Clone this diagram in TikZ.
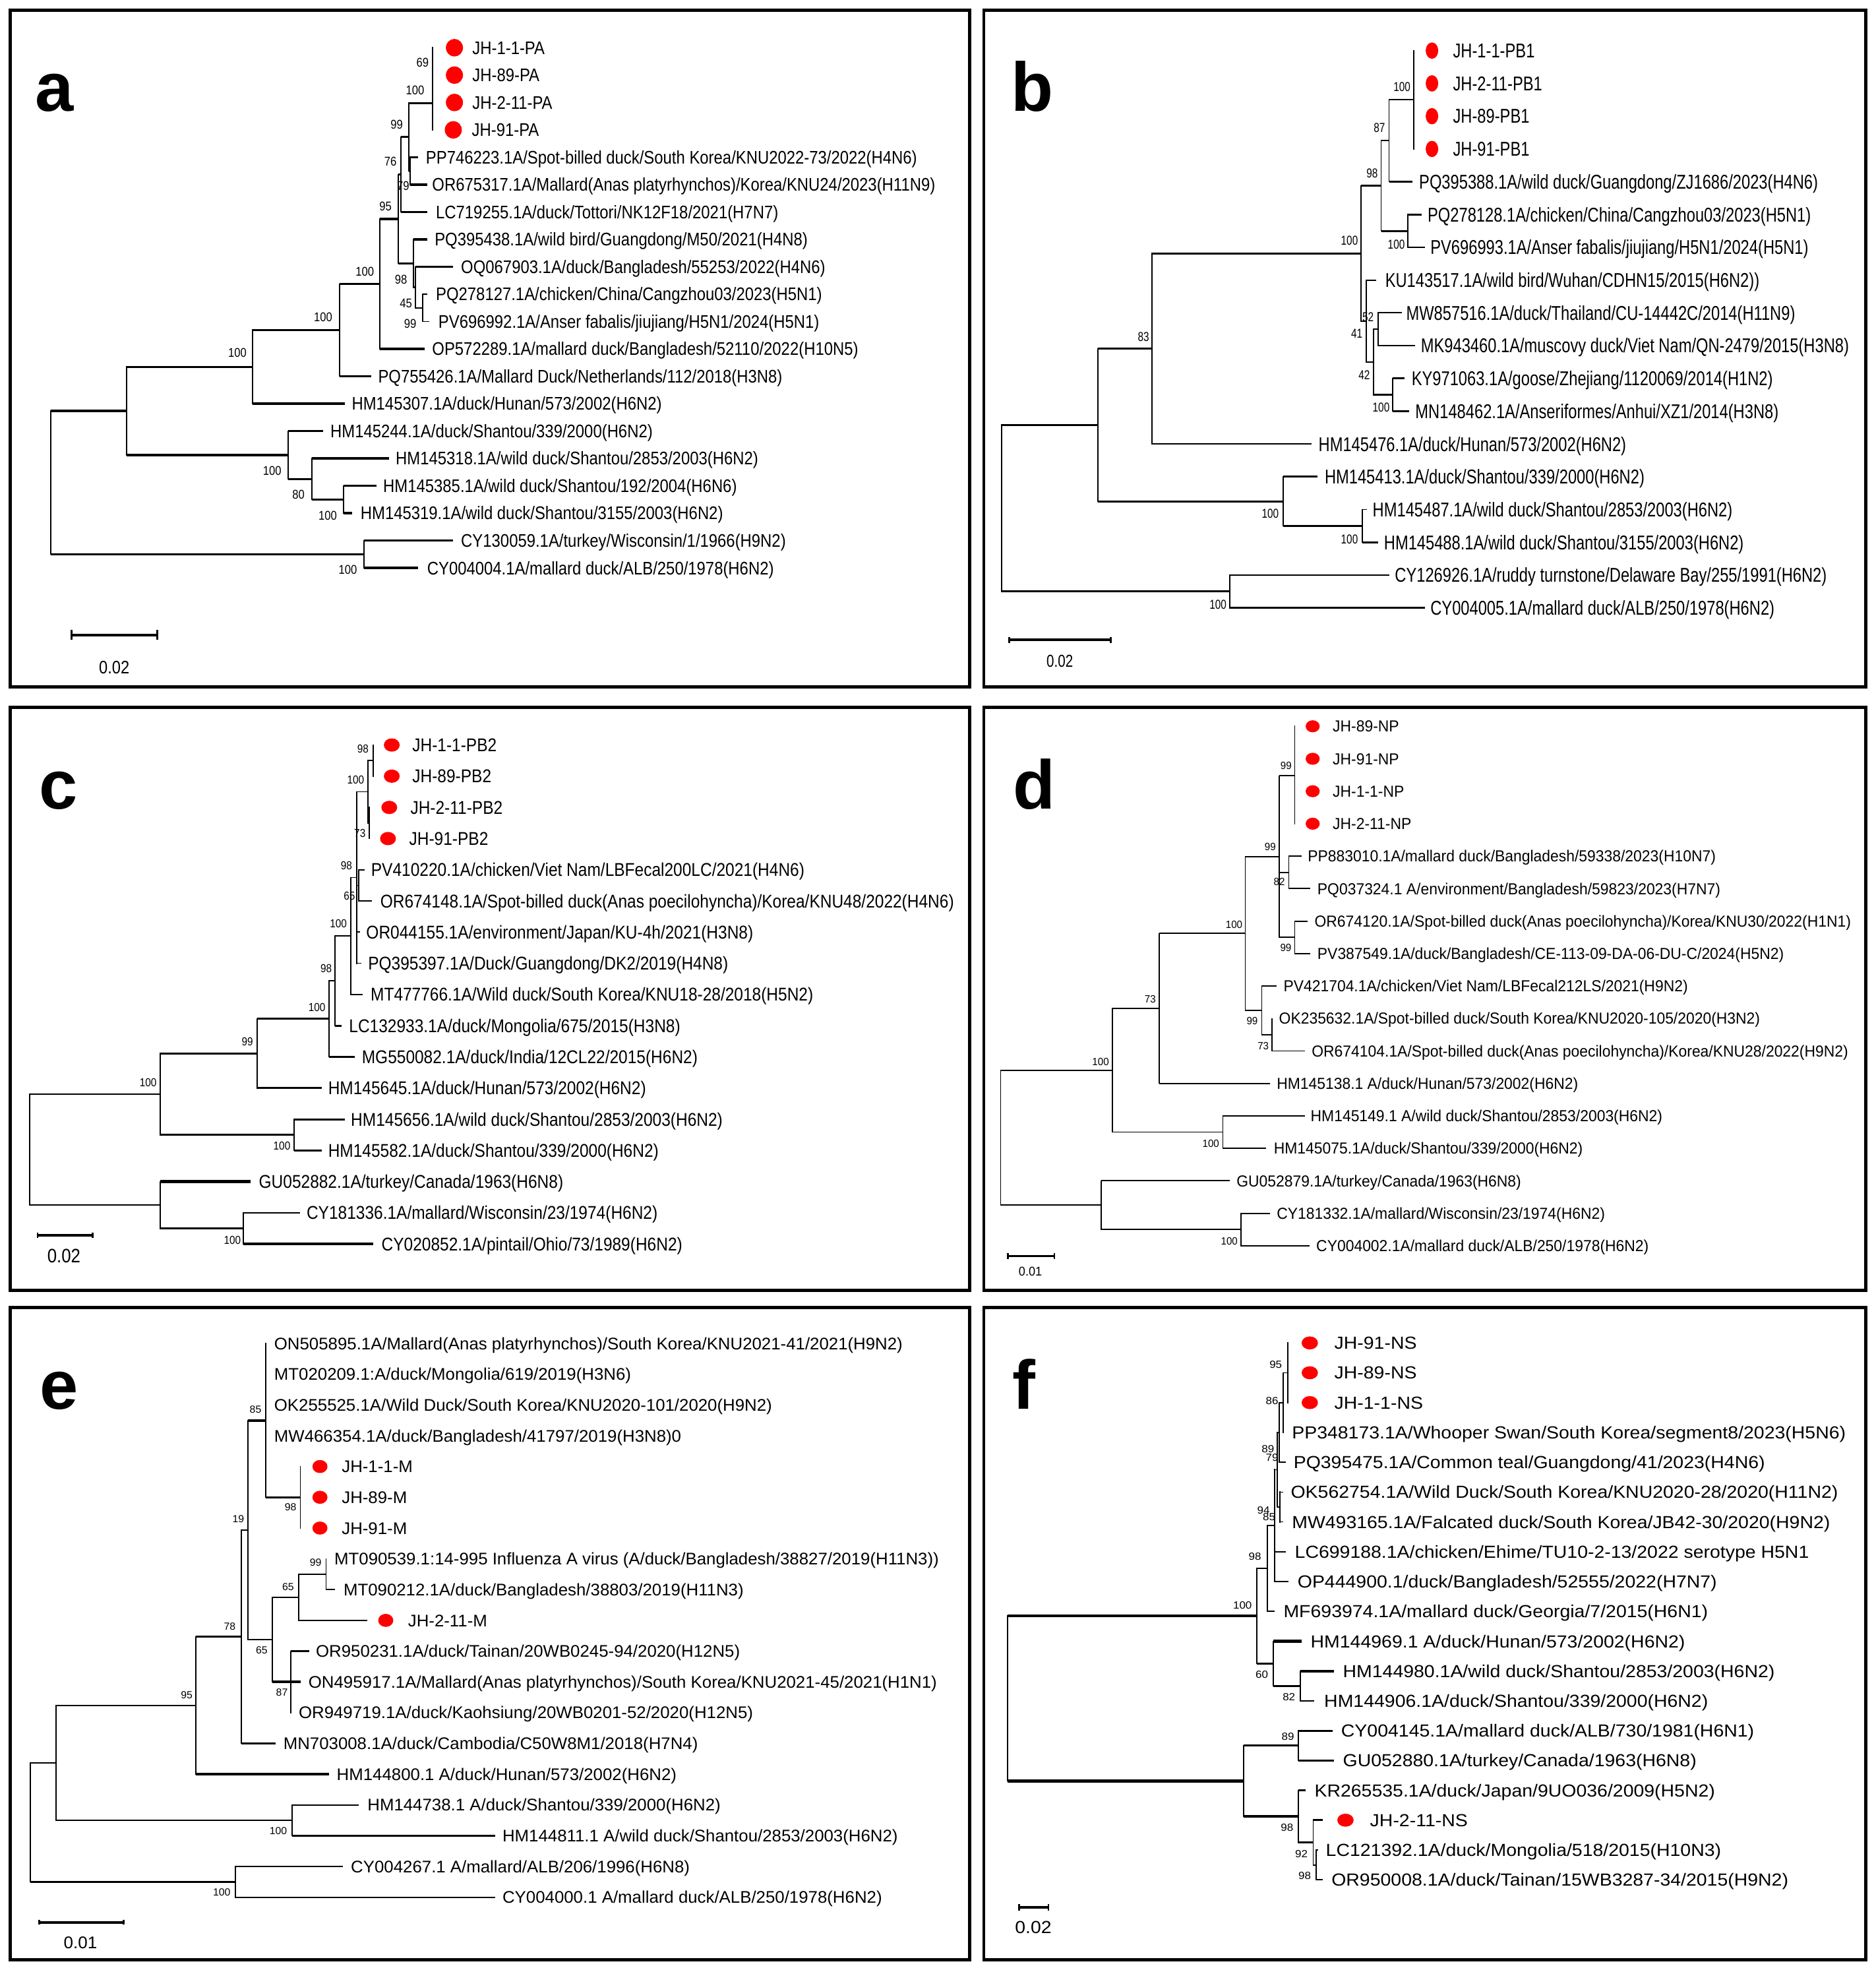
\documentclass[tikz,border=0pt]{standalone}
\usepackage{fontspec}
\setmainfont{Liberation Sans}
\newfontfamily\fA{Liberation Sans}[FakeStretch=0.865]
\newfontfamily\fB{Liberation Sans}[FakeStretch=0.783]
\newfontfamily\fC{Liberation Sans}[FakeStretch=0.875]
\newfontfamily\fD{Liberation Sans}[FakeStretch=0.947]
\newfontfamily\fE{Liberation Sans}[FakeStretch=1.012]
\newfontfamily\fF{Liberation Sans}[FakeStretch=1.075]
\newcounter{trbs}
\tikzset{
  vl/.style={line width=1pt,line cap=rect},
  hl/.style={line width=1.5pt},
  tk/.style={line width=2.2pt},
  tn/.style={line width=0.9pt},
  jd/.style={fill=red},
  sb/.style={line width=2pt},
  sbt/.style={line width=1.5pt},
  pbox/.style={line width=2.6pt},
  plab/.style={font=\bfseries\fontsize{55}{60}\selectfont,anchor=base west,inner sep=0pt}
}
\newcommand\TrInner[5][]{\coordinate (#2) at (#4,#5);\draw[vl] (#3) -- (#3|-#2);\draw[hl,#1] (#3|-#2) -- (#2);}
\newcommand\TrLeaf[7][]{\coordinate (#2t) at (#4,#5);\node[lab] (#2) at (#6,#5) {#7};\draw[vl] (#3) -- (#3|-#2t);\draw[hl,#1] (#3|-#2t) -- (#2t);}
\newcommand\TrJH[7]{\coordinate (#1t) at (#3,#4);\coordinate (#1d) at (#5,#4);\fill[jd] (#1d) ellipse [x radius=\drx, y radius=\dry];\node[lab] (#1) at (#6,#4) {#7};\draw[vl] (#2) -- (#2|-#1t);\draw[hl] (#2|-#1t) -- (#1t);}
\newcommand\TrBoot[3]{\stepcounter{trbs}\node[bsl] (bs\arabic{trbs}) at (#1,#2) {#3};}
\newcommand\TrScale[5]{\coordinate (#1L) at (#2,#4);\coordinate (#1R) at (#3,#4);\draw[sb] (#1L) -- (#1R);\draw[sbt] ([yshift=#5pt]#1L) -- ([yshift=-#5pt]#1L);\draw[sbt] ([yshift=#5pt]#1R) -- ([yshift=-#5pt]#1R);}
\begin{document}
\begin{tikzpicture}[x=1pt,y=-1pt]
\useasboundingbox (0,0) rectangle (1494,1568.6);
\fill[white] (0,0) rectangle (1494,1568.6);
% panel frames
\draw[pbox] (8,8) rectangle (772,547);
\draw[pbox] (783.5,8) rectangle (1486,547);
\draw[pbox] (8,563) rectangle (772,1027.5);
\draw[pbox] (783.5,563) rectangle (1486,1027.5);
\draw[pbox] (8,1041) rectangle (772,1560.5);
\draw[pbox] (783.5,1041) rectangle (1486,1560.5);
\node[plab] (pa) at (27.8,88.4) {a};
\node[plab] (pb) at (805,88.4) {b};
\node[plab] (pc) at (31,644) {c};
\node[plab] (pd) at (806.7,644) {d};
\node[plab] (pe) at (31.6,1122.2) {e};
\node[plab] (pf) at (806,1121.8) {f};

% ================= panel a =================
\begin{scope}[lab/.style={font=\fA\fontsize{14.5}{16}\selectfont,anchor=west,inner sep=0pt,text height=10.4pt,text depth=0pt},
  bsl/.style={font=\fA\fontsize{10.1}{11}\selectfont,inner sep=0pt,text height=7.2pt,text depth=0pt},
  sclab/.style={font=\fA\fontsize{14.4}{16}\selectfont,inner sep=0pt,text height=10.3pt,text depth=0pt},
  hl/.style={line width=1.7pt}]
\def\drx{6.8pt}\def\dry{7pt}
\coordinate (aR) at (40.6,384.25);
\TrInner{aA}{aR}{100.8}{327.2}
\TrInner{aB}{aR}{290}{441.3}
\TrInner{aN1}{aA}{201}{292.1}
\TrInner{aN2}{aA}{229.4}{362.3}
\TrInner{aN5}{aN1}{270.5}{262.8}
\TrInner{aN6}{aN5}{302.7}{226.05}
\TrInner{aN7}{aN6}{317.4}{174.3}
\TrInner{aN7a}{aN7}{319.4}{138.9}
\TrInner{aN9}{aN7a}{325.7}{109.05}
\TrInner{aJ}{aN9}{344.3}{82}
\TrInner{aC}{aN9}{326.7}{136.1}
\TrInner{aN8}{aN7}{329.2}{209.7}
\TrInner{aN10}{aN8}{330.6}{228.75}
\TrInner[tn]{aN11}{aN10}{336.5}{245.1}
\TrInner{aN3}{aN2}{248.5}{381.35}
\TrInner{aN4}{aN3}{273.4}{397.7}
\TrJH{a1}{aJ}{344.3}{38}{361.9}{376}{JH-1-1-PA}
\TrJH{a2}{aJ}{344.3}{59.8}{361.9}{376}{JH-89-PA}
\TrJH{a3}{aJ}{344.3}{81.6}{361.9}{376}{JH-2-11-PA}
\TrJH{a4}{aJ}{344.3}{103.4}{361}{375.6}{JH-91-PA}
\TrLeaf{a5}{aC}{333}{125.2}{339}{PP746223.1A/Spot-billed duck/South Korea/KNU2022-73/2022(H4N6)}
\TrLeaf{a6}{aC}{340.4}{147}{344}{OR675317.1A/Mallard(Anas platyrhynchos)/Korea/KNU24/2023(H11N9)}
\TrLeaf{a7}{aN7a}{340.4}{168.8}{347}{LC719255.1A/duck/Tottori/NK12F18/2021(H7N7)}
\TrLeaf{a8}{aN8}{340.4}{190.6}{346}{PQ395438.1A/wild bird/Guangdong/M50/2021(H4N8)}
\TrLeaf{a9}{aN10}{361}{212.4}{367}{OQ067903.1A/duck/Bangladesh/55253/2022(H4N6)}
\TrLeaf[tn]{a10}{aN11}{340.4}{234.2}{347}{PQ278127.1A/chicken/China/Cangzhou03/2023(H5N1)}
\TrLeaf[tn]{a11}{aN11}{341.9}{256}{349}{PV696992.1A/Anser fabalis/jiujiang/H5N1/2024(H5N1)}
\TrLeaf{a12}{aN6}{338}{277.8}{344}{OP572289.1A/mallard duck/Bangladesh/52110/2022(H10N5)}
\TrLeaf{a13}{aN5}{295.4}{299.6}{301}{PQ755426.1A/Mallard Duck/Netherlands/112/2018(H3N8)}
\TrLeaf{a14}{aN1}{274.4}{321.4}{280}{HM145307.1A/duck/Hunan/573/2002(H6N2)}
\TrLeaf{a15}{aN2}{257.3}{343.2}{263}{HM145244.1A/duck/Shantou/339/2000(H6N2)}
\TrLeaf{a16}{aN3}{310}{365}{315}{HM145318.1A/wild duck/Shantou/2853/2003(H6N2)}
\TrLeaf{a17}{aN4}{299.8}{386.8}{305}{HM145385.1A/wild duck/Shantou/192/2004(H6N6)}
\TrLeaf{a18}{aN4}{280.2}{408.6}{287}{HM145319.1A/wild duck/Shantou/3155/2003(H6N2)}
\TrLeaf{a19}{aB}{361}{430.4}{367}{CY130059.1A/turkey/Wisconsin/1/1966(H9N2)}
\TrLeaf{a20}{aB}{333}{452.2}{340}{CY004004.1A/mallard duck/ALB/250/1978(H6N2)}
\TrBoot{336.5}{49.9}{69}
\TrBoot{330.6}{71.8}{100}
\TrBoot{316}{99}{99}
\TrBoot{311}{128.7}{76}
\TrBoot{321}{148}{79}
\TrBoot{307}{164}{95}
\TrBoot{290.5}{216}{100}
\TrBoot{319.4}{222.4}{98}
\TrBoot{323.3}{241.6}{45}
\TrBoot{326.7}{257.9}{99}
\TrBoot{257.3}{252.2}{100}
\TrBoot{189}{281}{100}
\TrBoot{216.7}{374.7}{100}
\TrBoot{237.7}{393.9}{80}
\TrBoot{261}{410.6}{100}
\TrBoot{277}{453.5}{100}
\TrScale{as}{56.8}{125.2}{505.6}{4}
\node[sclab] (asT) at (91,531.4) {0.02};
\end{scope}

% ================= panel b =================
\begin{scope}[lab/.style={font=\fB\fontsize{15.9}{17}\selectfont,anchor=west,inner sep=0pt,text height=11.4pt,text depth=0pt},
  bsl/.style={font=\fB\fontsize{10.3}{11}\selectfont,inner sep=0pt,text height=7.4pt,text depth=0pt},
  sclab/.style={font=\fB\fontsize{13.8}{15}\selectfont,inner sep=0pt,text height=9.9pt,text depth=0pt},
  hl/.style={line width=1.5pt}]
\def\drx{5pt}\def\dry{6.5pt}
\coordinate (bR) at (797.7,404.7);
\TrInner{bN1}{bR}{874.2}{338.4}
\TrInner{bN2}{bR}{979.2}{470.95}
\TrInner{bN3}{bN1}{917.5}{277.6}
\TrInner{bN4}{bN1}{1022}{399.2}
\TrInner{bN6}{bN3}{1083.7}{201.75}
\TrInner{bN7}{bN6}{1099.9}{147.9}
\TrInner[tn]{bN11}{bN7}{1106.2}{112}
\TrInner{bJ}{bN11}{1126}{79.3}
\TrInner{bN12}{bN7}{1121}{183.85}
\TrInner[tn]{bNx}{bN6}{1088}{255.6}
\TrInner[tn]{bN8}{bNx}{1094}{288.25}
\TrInner[tn]{bN9}{bN8}{1097.6}{262.15}
\TrInner{bN10}{bN8}{1108.9}{314.35}
\TrInner{bN5}{bN4}{1085}{418.75}
\TrJH{b1}{bJ}{1126}{40.3}{1140.4}{1157}{JH-1-1-PB1}
\TrJH{b2}{bJ}{1126}{66.4}{1140.4}{1157}{JH-2-11-PB1}
\TrJH{b3}{bJ}{1126}{92.5}{1140.4}{1157}{JH-89-PB1}
\TrJH{b4}{bJ}{1126}{118.6}{1140.4}{1157}{JH-91-PB1}
\TrLeaf{b5}{bN11}{1124.7}{144.7}{1130}{PQ395388.1A/wild duck/Guangdong/ZJ1686/2023(H4N6)}
\TrLeaf{b6}{bN12}{1132.3}{170.8}{1136.8}{PQ278128.1A/chicken/China/Cangzhou03/2023(H5N1)}
\TrLeaf{b7}{bN12}{1134.6}{196.9}{1139}{PV696993.1A/Anser fabalis/jiujiang/H5N1/2024(H5N1)}
\TrLeaf[tn]{b8}{bNx}{1096}{223}{1103}{KU143517.1A/wild bird/Wuhan/CDHN15/2015(H6N2))}
\TrLeaf[tn]{b9}{bN9}{1116.5}{249.1}{1119.7}{MW857516.1A/duck/Thailand/CU-14442C/2014(H11N9)}
\TrLeaf{b10}{bN9}{1127}{275.2}{1131.4}{MK943460.1A/muscovy duck/Viet Nam/QN-2479/2015(H3N8)}
\TrLeaf{b11}{bN10}{1118.8}{301.3}{1124}{KY971063.1A/goose/Zhejiang/1120069/2014(H1N2)}
\TrLeaf{b12}{bN10}{1122}{327.4}{1127}{MN148462.1A/Anseriformes/Anhui/XZ1/2014(H3N8)}
\TrLeaf[tn]{b13}{bN3}{1044.5}{353.5}{1049.9}{HM145476.1A/duck/Hunan/573/2002(H6N2)}
\TrLeaf{b14}{bN4}{1049}{379.6}{1054.8}{HM145413.1A/duck/Shantou/339/2000(H6N2)}
\TrLeaf[tn]{b15}{bN5}{1088.6}{405.7}{1093}{HM145487.1A/wild duck/Shantou/2853/2003(H6N2)}
\TrLeaf{b16}{bN5}{1097.6}{431.8}{1102}{HM145488.1A/wild duck/Shantou/3155/2003(H6N2)}
\TrLeaf{b17}{bN2}{1106.2}{457.9}{1110.7}{CY126926.1A/ruddy turnstone/Delaware Bay/255/1991(H6N2)}
\TrLeaf{b18}{bN2}{1134.6}{484}{1139}{CY004005.1A/mallard duck/ALB/250/1978(H6N2)}
\TrBoot{1116.5}{69.2}{100}
\TrBoot{1098.5}{101.6}{87}
\TrBoot{1092.7}{137.8}{98}
\TrBoot{1074.7}{191.4}{100}
\TrBoot{1112}{194.4}{100}
\TrBoot{1089.5}{252.1}{52}
\TrBoot{1080.5}{265.3}{41}
\TrBoot{1086.4}{298.5}{42}
\TrBoot{1099.9}{324.4}{100}
\TrBoot{910.7}{267.9}{83}
\TrBoot{1011.6}{408.8}{100}
\TrBoot{1074.7}{429.4}{100}
\TrBoot{970}{481.5}{100}
\TrScale{bs}{803.5}{884.6}{509.5}{2.4}
\node[sclab] (bsT) at (844,526.1) {0.02};
\end{scope}

% ================= panel c =================
\begin{scope}[lab/.style={font=\fC\fontsize{14.7}{16}\selectfont,anchor=west,inner sep=0pt,text height=10.5pt,text depth=0pt},
  bsl/.style={font=\fC\fontsize{9.2}{10}\selectfont,inner sep=0pt,text height=6.6pt,text depth=0pt},
  sclab/.style={font=\fC\fontsize{15.5}{17}\selectfont,inner sep=0pt,text height=11.1pt,text depth=0pt},
  hl/.style={line width=1.5pt}]
\def\drx{6.3pt}\def\dry{5.3pt}
\coordinate (cR) at (23.5,915.3);
\TrInner{cC1}{cR}{127.7}{871.2}
\TrInner{cC2}{cR}{127.7}{959.45}
\TrInner{cC4}{cC1}{205}{838.8}
\TrInner{cC5}{cC1}{234.3}{903.6}
\TrInner{cC6}{cC4}{262.2}{811.25}
\TrInner[tn]{cC7}{cC6}{267}{781}
\TrInner[tn]{cC8}{cC7}{279.3}{745.25}
\TrInner[tn]{cQ}{cC8}{284}{698.7}
\TrInner[tn]{cJ0}{cQ}{292.8}{630.45}
\TrInner[tn]{cJ1}{cJ0}{297.4}{605.6}
\TrInner[tn]{cJ2}{cJ0}{294}{655.3}
\TrInner[tn]{cC9}{cQ}{285.6}{704.95}
\TrInner{cC3}{cC2}{193.7}{978.1}
\TrJH{c1}{cJ1}{297.4}{593.2}{312}{328.2}{JH-1-1-PB2}
\TrJH{c2}{cJ1}{297.4}{618}{312}{328.2}{JH-89-PB2}
\TrJH{c3}{cJ2}{294}{642.9}{310}{326.7}{JH-2-11-PB2}
\TrJH{c4}{cJ2}{294}{667.7}{309}{325.7}{JH-91-PB2}
\TrLeaf[tn]{c5}{cC9}{290.5}{692.5}{295.4}{PV410220.1A/chicken/Viet Nam/LBFecal200LC/2021(H4N6)}
\TrLeaf[tn]{c6}{cC9}{296.4}{717.4}{302.7}{OR674148.1A/Spot-billed duck(Anas poecilohyncha)/Korea/KNU48/2022(H4N6)}
\TrLeaf[tn]{c7}{cQ}{286.5}{742.2}{291.5}{OR044155.1A/environment/Japan/KU-4h/2021(H3N8)}
\TrLeaf[tn]{c8}{cQ}{288}{767}{293}{PQ395397.1A/Duck/Guangdong/DK2/2019(H4N8)}
\TrLeaf[tn]{c9}{cC8}{289}{791.8}{295}{MT477766.1A/Wild duck/South Korea/KNU18-28/2018(H5N2)}
\TrLeaf{c10}{cC7}{272}{816.7}{277.8}{LC132933.1A/duck/Mongolia/675/2015(H3N8)}
\TrLeaf{c11}{cC6}{282.7}{841.5}{288}{MG550082.1A/duck/India/12CL22/2015(H6N2)}
\TrLeaf{c12}{cC4}{256.3}{866.3}{261.2}{HM145645.1A/duck/Hunan/573/2002(H6N2)}
\TrLeaf{c13}{cC5}{274.4}{891.2}{279.3}{HM145656.1A/wild duck/Shantou/2853/2003(H6N2)}
\TrLeaf{c14}{cC5}{256.3}{916}{261.2}{HM145582.1A/duck/Shantou/339/2000(H6N2)}
\TrLeaf[tk]{c15}{cC2}{199.6}{940.8}{206}{GU052882.1A/turkey/Canada/1963(H6N8)}
\TrLeaf{c16}{cC3}{238.7}{965.7}{244}{CY181336.1A/mallard/Wisconsin/23/1974(H6N2)}
\TrLeaf[tk]{c17}{cC3}{297.4}{990.5}{303.7}{CY020852.1A/pintail/Ohio/73/1989(H6N2)}
\TrBoot{289}{596}{98}
\TrBoot{283.2}{620.7}{100}
\TrBoot{286.6}{663.6}{73}
\TrBoot{275.9}{689}{98}
\TrBoot{278.3}{713.5}{65}
\TrBoot{269.5}{735.4}{100}
\TrBoot{259.7}{771}{98}
\TrBoot{252.4}{801.8}{100}
\TrBoot{197}{829.3}{99}
\TrBoot{118}{861.9}{100}
\TrBoot{224.5}{912.5}{100}
\TrBoot{185}{987.4}{100}
\TrScale{cs}{29.9}{73.9}{983.6}{2.2}
\node[sclab] (csT) at (50.9,1000) {0.02};
\end{scope}

% ================= panel d =================
\begin{scope}[lab/.style={font=\fD\fontsize{12.7}{14}\selectfont,anchor=west,inner sep=0pt,text height=9.1pt,text depth=0pt},
  bsl/.style={font=\fD\fontsize{8.4}{9}\selectfont,inner sep=0pt,text height=6pt,text depth=0pt},
  sclab/.style={font=\fD\fontsize{10.1}{11}\selectfont,inner sep=0pt,text height=7.2pt,text depth=0pt},
  vl/.style={line width=0.8pt,line cap=rect},
  hl/.style={line width=1pt}, sb/.style={line width=1.6pt}, sbt/.style={line width=1.2pt}]
\def\drx{5.6pt}\def\dry{4.8pt}
\coordinate (dR) at (796.8,905.9);
\TrInner{dD1}{dR}{886}{852.2}
\TrInner{dD2}{dR}{877}{959.6}
\TrInner{dD4}{dD1}{923.3}{802.95}
\TrInner{dD5}{dD1}{973.8}{901.4}
\TrInner{dD6}{dD4}{991.8}{743.25}
\TrInner{dD7}{dD6}{1018.8}{682}
\TrInner{dJ}{dD7}{1031}{617.7}
\TrInner{dD10}{dD7}{1026.5}{694.6}
\TrInner{dD11}{dD7}{1031}{746.3}
\TrInner{dD8}{dD6}{1004.8}{804.5}
\TrInner{dD9}{dD8}{1013}{823.9}
\TrInner{dD3}{dD2}{988.2}{979}
\TrJH{d1}{dJ}{1031}{578.3}{1045.4}{1061.2}{JH-89-NP}
\TrJH{d2}{dJ}{1031}{604.15}{1045.4}{1061.2}{JH-91-NP}
\TrJH{d3}{dJ}{1031}{630}{1045.4}{1061.2}{JH-1-1-NP}
\TrJH{d4}{dJ}{1031}{655.85}{1045.4}{1061.2}{JH-2-11-NP}
\TrLeaf{d5}{dD10}{1036.8}{681.7}{1041.3}{PP883010.1A/mallard duck/Bangladesh/59338/2023(H10N7)}
\TrLeaf{d6}{dD10}{1043.6}{707.55}{1049}{PQ037324.1 A/environment/Bangladesh/59823/2023(H7N7)}
\TrLeaf{d7}{dD11}{1041.3}{733.4}{1046.7}{OR674120.1A/Spot-billed duck(Anas poecilohyncha)/Korea/KNU30/2022(H1N1)}
\TrLeaf{d8}{dD11}{1043.6}{759.25}{1049}{PV387549.1A/duck/Bangladesh/CE-113-09-DA-06-DU-C/2024(H5N2)}
\TrLeaf{d9}{dD8}{1016.6}{785.1}{1022}{PV421704.1A/chicken/Viet Nam/LBFecal212LS/2021(H9N2)}
\TrLeaf{d10}{dD9}{1013}{810.95}{1018.4}{OK235632.1A/Spot-billed duck/South Korea/KNU2020-105/2020(H3N2)}
\TrLeaf{d11}{dD9}{1039}{836.8}{1044.5}{OR674104.1A/Spot-billed duck(Anas poecilohyncha)/Korea/KNU28/2022(H9N2)}
\TrLeaf{d12}{dD4}{1011.6}{862.65}{1016.6}{HM145138.1 A/duck/Hunan/573/2002(H6N2)}
\TrLeaf{d13}{dD5}{1039}{888.5}{1043.6}{HM145149.1 A/wild duck/Shantou/2853/2003(H6N2)}
\TrLeaf{d14}{dD5}{1008.5}{914.35}{1014.3}{HM145075.1A/duck/Shantou/339/2000(H6N2)}
\TrLeaf{d15}{dD2}{979.2}{940.2}{984.6}{GU052879.1A/turkey/Canada/1963(H6N8)}
\TrLeaf{d16}{dD3}{1011.6}{966.05}{1016.6}{CY181332.1A/mallard/Wisconsin/23/1974(H6N2)}
\TrLeaf{d17}{dD3}{1043}{991.9}{1048.1}{CY004002.1A/mallard duck/ALB/250/1978(H6N2)}
\TrBoot{1024.2}{609.6}{99}
\TrBoot{1011.6}{674}{99}
\TrBoot{1018.8}{702}{82}
\TrBoot{982.8}{736.2}{100}
\TrBoot{1024}{754.6}{99}
\TrBoot{916}{795.7}{73}
\TrBoot{997.2}{812.8}{99}
\TrBoot{1006}{832.5}{73}
\TrBoot{876.5}{845.6}{100}
\TrBoot{964.3}{910.4}{100}
\TrBoot{979}{988.3}{100}
\TrScale{ds}{802.6}{839.6}{1000.2}{2.2}
\node[sclab] (dsT) at (820.6,1012.5) {0.01};
\end{scope}

% ================= panel e =================
\begin{scope}[lab/.style={font=\fE\fontsize{13.4}{15}\selectfont,anchor=west,inner sep=0pt,text height=9.6pt,text depth=0pt},
  bsl/.style={font=\fE\fontsize{8.2}{9}\selectfont,inner sep=0pt,text height=5.9pt,text depth=0pt},
  sclab/.style={font=\fE\fontsize{13.5}{15}\selectfont,inner sep=0pt,text height=9.7pt,text depth=0pt},
  hl/.style={line width=1.3pt}]
\def\drx{6pt}\def\dry{5.2pt}
\coordinate (eR) at (24,1451.1);
\TrInner{eE1}{eR}{44.6}{1403.7}
\TrInner{eE2}{eR}{187.3}{1498.45}
\TrInner{eE3}{eE1}{156}{1357.95}
\TrInner{eE4}{eE1}{232.8}{1449.45}
\TrInner{eE5}{eE3}{192.2}{1303.2}
\TrInner[tn]{eE6}{eE5}{197.6}{1218.2}
\TrInner[tk]{eE7}{eE6}{211.8}{1130.95}
\TrInner{eE12}{eE7}{239.2}{1192.2}
\TrInner{eE8}{eE6}{216.7}{1305.5}
\TrInner{eE9}{eE8}{237.7}{1271.8}
\TrInner{eE11}{eE9}{259.7}{1253.45}
\TrInner[tk]{eE10}{eE8}{231.8}{1339.2}
\TrLeaf{e1}{eE7}{211.8}{1069.7}{218.2}{ON505895.1A/Mallard(Anas platyrhynchos)/South Korea/KNU2021-41/2021(H9N2)}
\TrLeaf{e2}{eE7}{211.8}{1094.2}{218.2}{MT020209.1:A/duck/Mongolia/619/2019(H3N6)}
\TrLeaf{e3}{eE7}{211.8}{1118.7}{218.2}{OK255525.1A/Wild Duck/South Korea/KNU2020-101/2020(H9N2)}
\TrLeaf{e4}{eE7}{211.8}{1143.2}{218.2}{MW466354.1A/duck/Bangladesh/41797/2019(H3N8)0}
\TrJH{e5}{eE12}{239.2}{1167.7}{254.8}{272}{JH-1-1-M}
\TrJH{e6}{eE12}{239.2}{1192.2}{254.8}{272}{JH-89-M}
\TrJH{e7}{eE12}{239.2}{1216.7}{254.8}{272}{JH-91-M}
\TrLeaf{e8}{eE11}{259.7}{1241.2}{266.1}{MT090539.1:14-995 Influenza A virus (A/duck/Bangladesh/38827/2019(H11N3))}
\TrLeaf{e9}{eE11}{267}{1265.7}{273.4}{MT090212.1A/duck/Bangladesh/38803/2019(H11N3)}
\TrJH{e10}{eE9}{292.5}{1290.2}{307.2}{324.8}{JH-2-11-M}
\TrLeaf{e11}{eE10}{246.5}{1314.7}{251.4}{OR950231.1A/duck/Tainan/20WB0245-94/2020(H12N5)}
\TrLeaf[tk]{e12}{eE10}{239.2}{1339.2}{245.5}{ON495917.1A/Mallard(Anas platyrhynchos)/South Korea/KNU2021-45/2021(H1N1)}
\TrLeaf{e13}{eE10}{231.8}{1363.7}{237.7}{OR949719.1A/duck/Kaohsiung/20WB0201-52/2020(H12N5)}
\TrLeaf{e14}{eE5}{219.6}{1388.2}{225.5}{MN703008.1A/duck/Cambodia/C50W8M1/2018(H7N4)}
\TrLeaf[tk]{e15}{eE3}{262.2}{1412.7}{268}{HM144800.1 A/duck/Hunan/573/2002(H6N2)}
\TrLeaf{e16}{eE4}{285.6}{1437.2}{292.5}{HM144738.1 A/duck/Shantou/339/2000(H6N2)}
\TrLeaf{e17}{eE4}{394.2}{1461.7}{400}{HM144811.1 A/wild duck/Shantou/2853/2003(H6N2)}
\TrLeaf{e18}{eE2}{272.9}{1486.2}{279.3}{CY004267.1 A/mallard/ALB/206/1996(H6N8)}
\TrLeaf{e19}{eE2}{394.2}{1510.7}{400}{CY004000.1 A/mallard duck/ALB/250/1978(H6N2)}
\TrBoot{203.5}{1122.2}{85}
\TrBoot{231.4}{1200.1}{98}
\TrBoot{189.8}{1209.4}{19}
\TrBoot{251.4}{1243.9}{99}
\TrBoot{229.4}{1263.2}{65}
\TrBoot{183}{1294.7}{78}
\TrBoot{208.4}{1313.9}{65}
\TrBoot{224.5}{1347.2}{87}
\TrBoot{148.7}{1349.5}{95}
\TrBoot{221.6}{1457.5}{100}
\TrBoot{176.6}{1506.5}{100}
\TrScale{es}{31.4}{98.3}{1530.7}{1.8}
\node[sclab] (esT) at (64.1,1546.8) {0.01};
\end{scope}

% ================= panel f =================
\begin{scope}[lab/.style={font=\fF\fontsize{13.9}{15}\selectfont,anchor=west,inner sep=0pt,text height=10pt,text depth=0pt},
  bsl/.style={font=\fF\fontsize{8.3}{9}\selectfont,inner sep=0pt,text height=5.9pt,text depth=0pt},
  sclab/.style={font=\fF\fontsize{13.9}{15}\selectfont,inner sep=0pt,text height=10pt,text depth=0pt},
  hl/.style={line width=1.5pt}]
\def\drx{6.5pt}\def\dry{5.2pt}
\coordinate (fR) at (802.6,1352.4);
\TrInner[tk]{fF1}{fR}{1000.8}{1286.75}
\TrInner[tk]{fF2}{fR}{990.4}{1418.1}
\TrInner[tn]{fF7}{fF1}{1009.4}{1248.9}
\TrInner[tn]{fF10}{fF7}{1015.2}{1214.75}
\TrInner[tn]{fF11}{fF10}{1017}{1170.2}
\TrInner[tn]{fK2}{fF11}{1018.8}{1140.55}
\TrInner[tn]{fK1}{fK2}{1022}{1116.8}
\TrInner[tn]{fJ}{fK1}{1025.6}{1093.05}
\TrInner[tn]{fK3}{fF11}{1019.5}{1199.9}
\TrInner{fF8}{fF1}{1013.9}{1324.6}
\TrInner{fF9}{fF8}{1035.5}{1342.4}
\TrInner{fF3}{fF2}{1034.1}{1389.9}
\TrInner[tk]{fF4}{fF2}{1034.1}{1446.3}
\TrInner{fF5}{fF4}{1045.8}{1467.1}
\TrInner[tn]{fF6}{fF5}{1048}{1484.9}
\TrJH{f1}{fJ}{1025.6}{1069.3}{1043.1}{1062.5}{JH-91-NS}
\TrJH{f2}{fJ}{1025.6}{1093.05}{1043.1}{1062.5}{JH-89-NS}
\TrJH{f3}{fJ}{1025.6}{1116.8}{1043.1}{1062.5}{JH-1-1-NS}
\TrLeaf[tn]{f4}{fK1}{1022}{1140.55}{1028.7}{PP348173.1A/Whooper Swan/South Korea/segment8/2023(H5N6)}
\TrLeaf[tn]{f5}{fK2}{1024}{1164.3}{1030}{PQ395475.1A/Common teal/Guangdong/41/2023(H4N6)}
\TrLeaf[tn]{f6}{fK3}{1022}{1188.05}{1027.8}{OK562754.1A/Wild Duck/South Korea/KNU2020-28/2020(H11N2)}
\TrLeaf[tn]{f7}{fK3}{1022}{1211.8}{1028.7}{MW493165.1A/Falcated duck/South Korea/JB42-30/2020(H9N2)}
\TrLeaf[tn]{f8}{fF10}{1024}{1235.55}{1031}{LC699188.1A/chicken/Ehime/TU10-2-13/2022 serotype H5N1}
\TrLeaf[tn]{f9}{fF10}{1026}{1259.3}{1033.2}{OP444900.1/duck/Bangladesh/52555/2022(H7N7)}
\TrLeaf[tn]{f10}{fF7}{1015.2}{1283.05}{1022}{MF693974.1A/mallard duck/Georgia/7/2015(H6N1)}
\TrLeaf[tk]{f11}{fF8}{1036.8}{1306.8}{1043.6}{HM144969.1 A/duck/Hunan/573/2002(H6N2)}
\TrLeaf[tk]{f12}{fF9}{1062.5}{1330.55}{1069.3}{HM144980.1A/wild duck/Shantou/2853/2003(H6N2)}
\TrLeaf{f13}{fF9}{1046.7}{1354.3}{1054.4}{HM144906.1A/duck/Shantou/339/2000(H6N2)}
\TrLeaf{f14}{fF3}{1061.1}{1378.05}{1067.9}{CY004145.1A/mallard duck/ALB/730/1981(H6N1)}
\TrLeaf{f15}{fF3}{1062.5}{1401.8}{1069.3}{GU052880.1A/turkey/Canada/1963(H6N8)}
\TrLeaf{f16}{fF4}{1040}{1425.55}{1046.7}{KR265535.1A/duck/Japan/9UO036/2009(H5N2)}
\TrJH{f17}{fF5}{1053.5}{1449.3}{1071.5}{1090.9}{JH-2-11-NS}
\TrLeaf[tn]{f18}{fF6}{1050}{1473.05}{1055.7}{LC121392.1A/duck/Mongolia/518/2015(H10N3)}
\TrLeaf[tn]{f19}{fF6}{1053.5}{1496.8}{1060.2}{OR950008.1A/duck/Tainan/15WB3287-34/2015(H9N2)}
\TrBoot{1016}{1086.3}{95}
\TrBoot{1013}{1115.2}{86}
\TrBoot{1009.8}{1153.7}{89}
\TrBoot{1013}{1160.7}{79}
\TrBoot{1006.2}{1202.7}{94}
\TrBoot{1010.7}{1208}{85}
\TrBoot{999.4}{1239.2}{98}
\TrBoot{989.5}{1278}{100}
\TrBoot{1004.9}{1333.2}{60}
\TrBoot{1026.5}{1351.2}{82}
\TrBoot{1025.6}{1382.8}{89}
\TrBoot{1025}{1454.9}{98}
\TrBoot{1036.4}{1475.9}{92}
\TrBoot{1039}{1493.4}{98}
\TrScale{fs}{811.6}{835}{1518.8}{2.5}
\node[sclab] (fsT) at (822.9,1534.6) {0.02};
\end{scope}
\end{tikzpicture}
\end{document}
